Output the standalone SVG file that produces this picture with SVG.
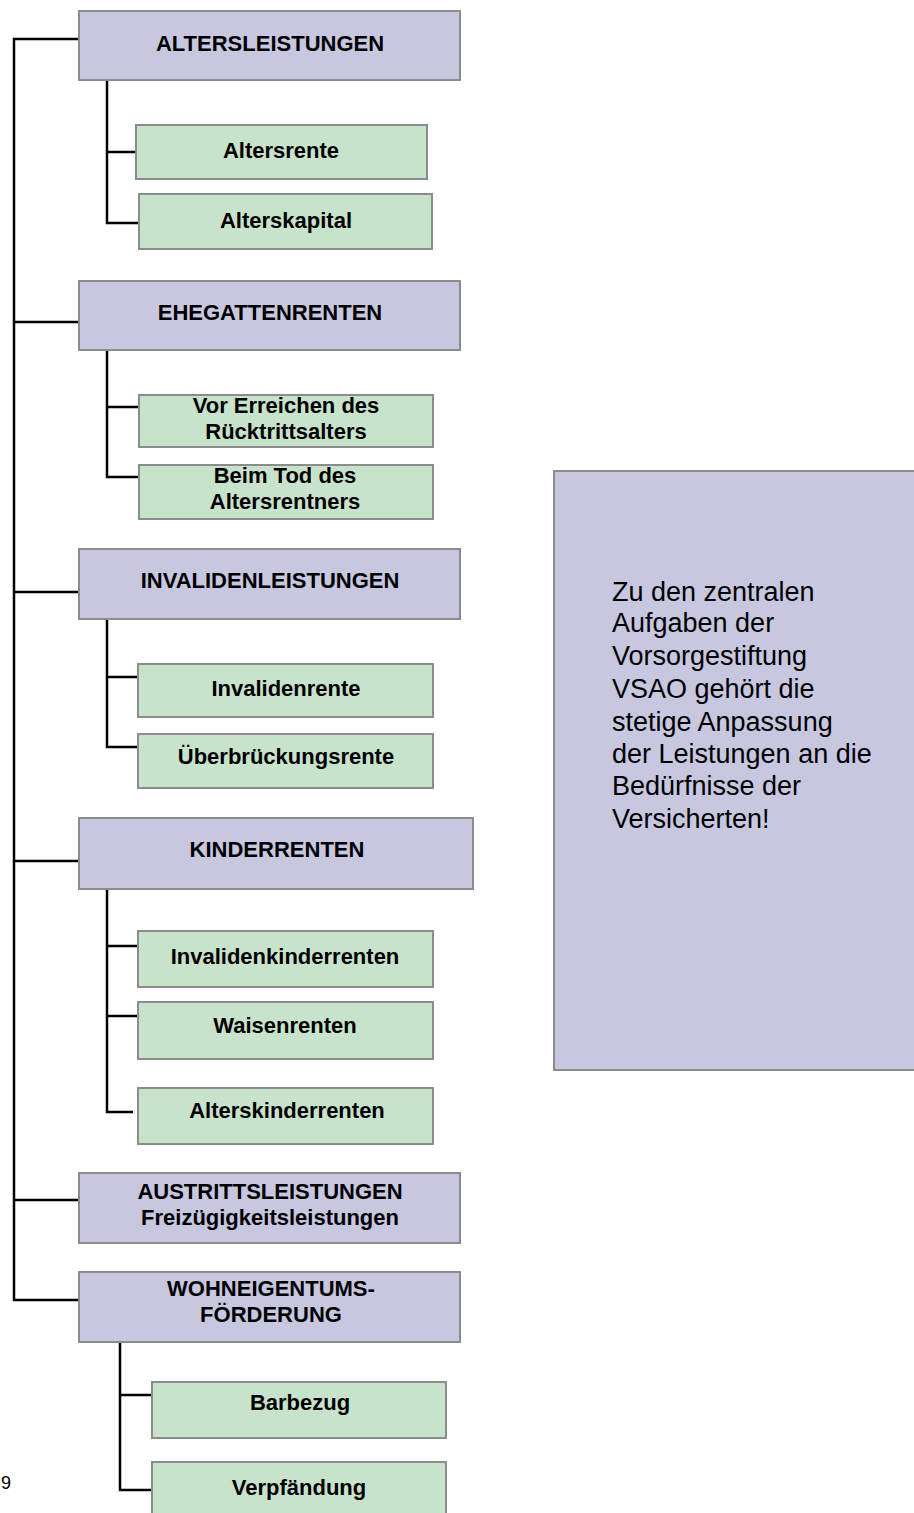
<svg xmlns="http://www.w3.org/2000/svg" width="914" height="1513" viewBox="0 0 914 1513">
<style>
.p{fill:#c8c7e0;stroke:#8c8c8c;stroke-width:2}
.g{fill:#c8e3cc;stroke:#8c8c8c;stroke-width:2}
.t{font-family:"Liberation Sans",Arial,sans-serif;font-weight:bold;font-size:22px;fill:#000;text-anchor:middle}
.r{font-family:"Liberation Sans",Arial,sans-serif;font-size:27px;fill:#000}
.n{font-family:"Liberation Sans",Arial,sans-serif;font-size:18px;fill:#000}
.c{fill:none;stroke:#000;stroke-width:2.5}
</style>
<rect width="914" height="1513" fill="#fff"/>
<g id="connectors">
<path class="c" d="M79,39H14V1300H79M14,322H79M14,592H79M14,861H79M14,1200H79"/>
<path class="c" d="M107,80V223H139M107,152H136"/>
<path class="c" d="M107,350V477H139M107,407H139"/>
<path class="c" d="M107,619V747H138M107,677H138"/>
<path class="c" d="M107,889V1112H133M107,946H138M107,1016H138"/>
<path class="c" d="M120,1342V1490H152M120,1395H152"/>
</g>
<g id="altersleistungen"><rect class="p" x="79" y="11" width="381" height="69"/><text class="t" x="270" y="51">ALTERSLEISTUNGEN</text></g>
<g id="altersrente"><rect class="g" x="136" y="125" width="291" height="54"/><text class="t" x="281" y="158">Altersrente</text></g>
<g id="alterskapital"><rect class="g" x="139" y="194" width="293" height="55"/><text class="t" x="286" y="228">Alterskapital</text></g>
<g id="ehegattenrenten"><rect class="p" x="79" y="281" width="381" height="69"/><text class="t" x="270" y="320">EHEGATTENRENTEN</text></g>
<g id="vor-erreichen"><rect class="g" x="139" y="395" width="294" height="52"/><text class="t" x="286" y="413">Vor Erreichen des</text><text class="t" x="286" y="439">Rücktrittsalters</text></g>
<g id="beim-tod"><rect class="g" x="139" y="465" width="294" height="54"/><text class="t" x="285" y="483">Beim Tod des</text><text class="t" x="285" y="509">Altersrentners</text></g>
<g id="invalidenleistungen"><rect class="p" x="79" y="549" width="381" height="70"/><text class="t" x="270" y="588">INVALIDENLEISTUNGEN</text></g>
<g id="invalidenrente"><rect class="g" x="138" y="664" width="295" height="53"/><text class="t" x="286" y="696">Invalidenrente</text></g>
<g id="ueberbrueckungsrente"><rect class="g" x="138" y="734" width="295" height="54"/><text class="t" x="286" y="764">Überbrückungsrente</text></g>
<g id="kinderrenten"><rect class="p" x="79" y="818" width="394" height="71"/><text class="t" x="277" y="857">KINDERRENTEN</text></g>
<g id="invalidenkinderrenten"><rect class="g" x="138" y="931" width="295" height="56"/><text class="t" x="285" y="964">Invalidenkinderrenten</text></g>
<g id="waisenrenten"><rect class="g" x="138" y="1002" width="295" height="57"/><text class="t" x="285" y="1033">Waisenrenten</text></g>
<g id="alterskinderrenten"><rect class="g" x="138" y="1088" width="295" height="56"/><text class="t" x="287" y="1118">Alterskinderrenten</text></g>
<g id="austrittsleistungen"><rect class="p" x="79" y="1173" width="381" height="70"/><text class="t" x="270" y="1199">AUSTRITTSLEISTUNGEN</text><text class="t" x="270" y="1225">Freizügigkeitsleistungen</text></g>
<g id="wohneigentum"><rect class="p" x="79" y="1272" width="381" height="70"/><text class="t" x="271" y="1296">WOHNEIGENTUMS-</text><text class="t" x="271" y="1322">FÖRDERUNG</text></g>
<g id="barbezug"><rect class="g" x="152" y="1382" width="294" height="56"/><text class="t" x="300" y="1410">Barbezug</text></g>
<g id="verpfaendung"><rect class="g" x="152" y="1462" width="294" height="60"/><text class="t" x="299" y="1495">Verpfändung</text></g>
<g id="info">
<rect class="p" x="554" y="471" width="372" height="599"/>
<text class="r" x="612"><tspan x="612" y="601">Zu den zentralen</tspan><tspan x="612" y="632">Aufgaben der</tspan><tspan x="612" y="665">Vorsorgestiftung</tspan><tspan x="612" y="698">VSAO gehört die</tspan><tspan x="612" y="731">stetige Anpassung</tspan><tspan x="612" y="763">der Leistungen an die</tspan><tspan x="612" y="795">Bedürfnisse der</tspan><tspan x="612" y="828">Versicherten!</tspan></text>
</g>
<text class="n" x="1" y="1489">9</text>
</svg>
